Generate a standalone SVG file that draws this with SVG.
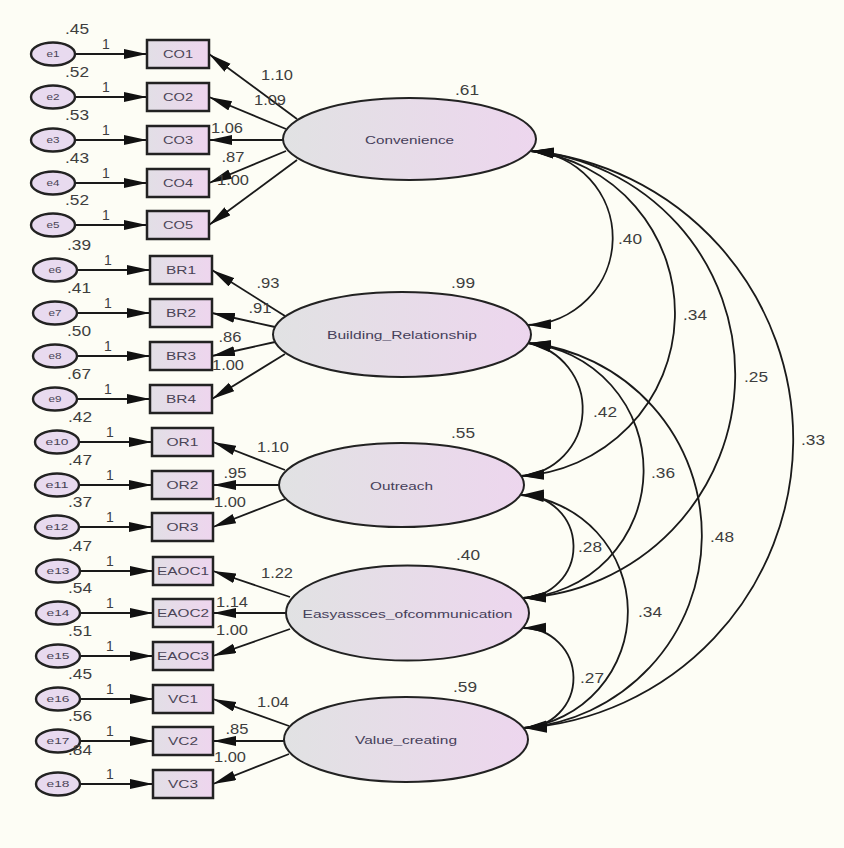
<svg xmlns="http://www.w3.org/2000/svg" width="844" height="848" viewBox="0 0 844 848">
<defs>
<linearGradient id="gl" x1="0" y1="0" x2="1" y2="0">
<stop offset="0" stop-color="#e1e2e3"/>
<stop offset="1" stop-color="#edd6ee"/>
</linearGradient>
<linearGradient id="gb" x1="0" y1="0" x2="1" y2="0">
<stop offset="0" stop-color="#e2dfe6"/>
<stop offset="1" stop-color="#eed5ee"/>
</linearGradient>
<marker id="ah" markerUnits="userSpaceOnUse" markerWidth="25" markerHeight="11" refX="23" refY="5" orient="auto">
<path d="M0,0 L23,5 L0,10 z" fill="#111"/>
</marker>
<marker id="ahs" markerUnits="userSpaceOnUse" markerWidth="25" markerHeight="11" refX="23" refY="5" orient="auto-start-reverse">
<path d="M0,0 L23,5 L0,10 z" fill="#111"/>
</marker>
</defs>
<style>
.lat{fill:url(#gl);stroke:#222;stroke-width:2}
.obs{fill:url(#gb);stroke:#222;stroke-width:2.5}
.err{fill:#e8daef;stroke:#222;stroke-width:2.4}
.c{fill:none;stroke:#1a1a1a;stroke-width:1.8;marker-end:url(#ah)}
.cov{fill:none;stroke:#1a1a1a;stroke-width:1.8;marker-start:url(#ahs);marker-end:url(#ahs)}
text{font-family:"Liberation Sans",Arial,sans-serif;text-anchor:middle}
.n text,text.n{font-size:14px;fill:#3e3e3e}
.lt{font-size:11.5px;fill:#46405a}
.bt{font-size:10px;fill:#4a4456}
.et{font-size:9px;fill:#4a4456}
</style>
<rect x="0" y="0" width="844" height="848" fill="#fdfdf5"/>

<g id="connectors">
<line class="c" x1="75" y1="54" x2="147" y2="54"/>
<line class="c" x1="75" y1="97" x2="147" y2="97"/>
<line class="c" x1="75" y1="140" x2="147" y2="140"/>
<line class="c" x1="75" y1="183" x2="147" y2="183"/>
<line class="c" x1="75" y1="225" x2="147" y2="225"/>
<line class="c" x1="77" y1="270" x2="150" y2="270"/>
<line class="c" x1="77" y1="313" x2="150" y2="313"/>
<line class="c" x1="77" y1="356" x2="150" y2="356"/>
<line class="c" x1="77" y1="399" x2="150" y2="399"/>
<line class="c" x1="79" y1="442" x2="152" y2="442"/>
<line class="c" x1="79" y1="485" x2="152" y2="485"/>
<line class="c" x1="79" y1="527" x2="152" y2="527"/>
<line class="c" x1="80" y1="571" x2="153" y2="571"/>
<line class="c" x1="80" y1="613" x2="153" y2="613"/>
<line class="c" x1="80" y1="656" x2="153" y2="656"/>
<line class="c" x1="80" y1="699" x2="153" y2="699"/>
<line class="c" x1="80" y1="741" x2="153" y2="741"/>
<line class="c" x1="80" y1="784" x2="153" y2="784"/>
<line class="c" x1="297" y1="119" x2="209" y2="54"/>
<line class="c" x1="286" y1="129" x2="209" y2="97"/>
<line class="c" x1="285" y1="140" x2="209" y2="140"/>
<line class="c" x1="286" y1="151" x2="209" y2="183"/>
<line class="c" x1="297" y1="160" x2="209" y2="225"/>
<line class="c" x1="285" y1="316" x2="212" y2="270"/>
<line class="c" x1="275" y1="327" x2="212" y2="313"/>
<line class="c" x1="275" y1="342" x2="212" y2="356"/>
<line class="c" x1="285" y1="354" x2="212" y2="399"/>
<line class="c" x1="285" y1="470" x2="213" y2="442"/>
<line class="c" x1="281" y1="485" x2="213" y2="485"/>
<line class="c" x1="285" y1="499" x2="213" y2="527"/>
<line class="c" x1="290" y1="597" x2="213" y2="571"/>
<line class="c" x1="288" y1="613" x2="213" y2="613"/>
<line class="c" x1="290" y1="629" x2="213" y2="656"/>
<line class="c" x1="289" y1="726" x2="213" y2="699"/>
<line class="c" x1="286" y1="741" x2="213" y2="741"/>
<line class="c" x1="289" y1="754" x2="213" y2="784"/>
<path class="cov" d="M531,151 A87.1,87.1 0 0 1 528,325"/>
<path class="cov" d="M531,151 A163.2,163.2 0 0 1 521,476"/>
<path class="cov" d="M531,151 A224.1,224.1 0 0 1 523,598"/>
<path class="cov" d="M531,151 A289.5,289.5 0 0 1 524,728"/>
<path class="cov" d="M528,343 A67.2,67.2 0 0 1 521,476"/>
<path class="cov" d="M528,343 A127.9,127.9 0 0 1 523,598"/>
<path class="cov" d="M528,343 A193.3,193.3 0 0 1 524,728"/>
<path class="cov" d="M521,495 A51.5,51.5 0 0 1 523,598"/>
<path class="cov" d="M521,495 A117.1,117.1 0 0 1 524,728"/>
<path class="cov" d="M523,628 A50,50 0 0 1 524,728"/>
<g class="n">
<text x="106" y="49">1</text><text x="106" y="92">1</text><text x="106" y="135">1</text><text x="106" y="178">1</text><text x="106" y="220">1</text>
<text x="108" y="265">1</text><text x="108" y="308">1</text><text x="108" y="351">1</text><text x="108" y="394">1</text>
<text x="110" y="437">1</text><text x="110" y="480">1</text><text x="110" y="522">1</text>
<text x="110" y="566">1</text><text x="110" y="608">1</text><text x="110" y="651">1</text>
<text x="110" y="694">1</text><text x="110" y="736">1</text><text x="110" y="779">1</text>
<text x="277" y="80" textLength="32" lengthAdjust="spacingAndGlyphs">1.10</text><text x="270" y="105" textLength="32" lengthAdjust="spacingAndGlyphs">1.09</text><text x="227" y="133" textLength="32" lengthAdjust="spacingAndGlyphs">1.06</text><text x="233" y="162" textLength="23" lengthAdjust="spacingAndGlyphs">.87</text><text x="233" y="185" textLength="32" lengthAdjust="spacingAndGlyphs">1.00</text>
<text x="268" y="288" textLength="23" lengthAdjust="spacingAndGlyphs">.93</text><text x="260" y="313" textLength="23" lengthAdjust="spacingAndGlyphs">.91</text><text x="230" y="342" textLength="23" lengthAdjust="spacingAndGlyphs">.86</text><text x="228" y="370" textLength="32" lengthAdjust="spacingAndGlyphs">1.00</text>
<text x="273" y="452" textLength="32" lengthAdjust="spacingAndGlyphs">1.10</text><text x="235" y="478" textLength="23" lengthAdjust="spacingAndGlyphs">.95</text><text x="230" y="507" textLength="32" lengthAdjust="spacingAndGlyphs">1.00</text>
<text x="277" y="578" textLength="32" lengthAdjust="spacingAndGlyphs">1.22</text><text x="232" y="607" textLength="32" lengthAdjust="spacingAndGlyphs">1.14</text><text x="232" y="635" textLength="32" lengthAdjust="spacingAndGlyphs">1.00</text>
<text x="273" y="707" textLength="32" lengthAdjust="spacingAndGlyphs">1.04</text><text x="237" y="734" textLength="23" lengthAdjust="spacingAndGlyphs">.85</text><text x="230" y="762" textLength="32" lengthAdjust="spacingAndGlyphs">1.00</text>
<text x="630" y="244" textLength="24" lengthAdjust="spacingAndGlyphs">.40</text><text x="695" y="320" textLength="24" lengthAdjust="spacingAndGlyphs">.34</text><text x="756" y="382" textLength="24" lengthAdjust="spacingAndGlyphs">.25</text><text x="813" y="445" textLength="24" lengthAdjust="spacingAndGlyphs">.33</text>
<text x="605" y="417" textLength="24" lengthAdjust="spacingAndGlyphs">.42</text><text x="663" y="478" textLength="24" lengthAdjust="spacingAndGlyphs">.36</text><text x="722" y="542" textLength="24" lengthAdjust="spacingAndGlyphs">.48</text>
<text x="590" y="552" textLength="24" lengthAdjust="spacingAndGlyphs">.28</text><text x="650" y="617" textLength="24" lengthAdjust="spacingAndGlyphs">.34</text><text x="592" y="683" textLength="24" lengthAdjust="spacingAndGlyphs">.27</text>
</g>
</g>

<g id="e1"><ellipse class="err" cx="53" cy="54" rx="22" ry="11.5"/><text class="et" x="53" y="57" textLength="13" lengthAdjust="spacingAndGlyphs">e1</text><text class="n" x="77" y="34" textLength="24" lengthAdjust="spacingAndGlyphs">.45</text></g>
<g id="e2"><ellipse class="err" cx="53" cy="97" rx="22" ry="11.5"/><text class="et" x="53" y="100" textLength="13" lengthAdjust="spacingAndGlyphs">e2</text><text class="n" x="77" y="77" textLength="24" lengthAdjust="spacingAndGlyphs">.52</text></g>
<g id="e3"><ellipse class="err" cx="53" cy="140" rx="22" ry="11.5"/><text class="et" x="53" y="143" textLength="13" lengthAdjust="spacingAndGlyphs">e3</text><text class="n" x="77" y="120" textLength="24" lengthAdjust="spacingAndGlyphs">.53</text></g>
<g id="e4"><ellipse class="err" cx="53" cy="183" rx="22" ry="11.5"/><text class="et" x="53" y="186" textLength="13" lengthAdjust="spacingAndGlyphs">e4</text><text class="n" x="77" y="163" textLength="24" lengthAdjust="spacingAndGlyphs">.43</text></g>
<g id="e5"><ellipse class="err" cx="53" cy="225" rx="22" ry="11.5"/><text class="et" x="53" y="228" textLength="13" lengthAdjust="spacingAndGlyphs">e5</text><text class="n" x="77" y="205" textLength="24" lengthAdjust="spacingAndGlyphs">.52</text></g>
<g id="e6"><ellipse class="err" cx="55" cy="270" rx="22" ry="11.5"/><text class="et" x="55" y="273" textLength="13" lengthAdjust="spacingAndGlyphs">e6</text><text class="n" x="79" y="250" textLength="24" lengthAdjust="spacingAndGlyphs">.39</text></g>
<g id="e7"><ellipse class="err" cx="55" cy="313" rx="22" ry="11.5"/><text class="et" x="55" y="316" textLength="13" lengthAdjust="spacingAndGlyphs">e7</text><text class="n" x="79" y="293" textLength="24" lengthAdjust="spacingAndGlyphs">.41</text></g>
<g id="e8"><ellipse class="err" cx="55" cy="356" rx="22" ry="11.5"/><text class="et" x="55" y="359" textLength="13" lengthAdjust="spacingAndGlyphs">e8</text><text class="n" x="79" y="336" textLength="24" lengthAdjust="spacingAndGlyphs">.50</text></g>
<g id="e9"><ellipse class="err" cx="55" cy="399" rx="22" ry="11.5"/><text class="et" x="55" y="402" textLength="13" lengthAdjust="spacingAndGlyphs">e9</text><text class="n" x="79" y="379" textLength="24" lengthAdjust="spacingAndGlyphs">.67</text></g>
<g id="e10"><ellipse class="err" cx="57" cy="442" rx="22" ry="11.5"/><text class="et" x="57" y="445" textLength="23" lengthAdjust="spacingAndGlyphs">e10</text><text class="n" x="80" y="422" textLength="24" lengthAdjust="spacingAndGlyphs">.42</text></g>
<g id="e11"><ellipse class="err" cx="57" cy="485" rx="22" ry="11.5"/><text class="et" x="57" y="488" textLength="23" lengthAdjust="spacingAndGlyphs">e11</text><text class="n" x="80" y="465" textLength="24" lengthAdjust="spacingAndGlyphs">.47</text></g>
<g id="e12"><ellipse class="err" cx="57" cy="527" rx="22" ry="11.5"/><text class="et" x="57" y="530" textLength="23" lengthAdjust="spacingAndGlyphs">e12</text><text class="n" x="80" y="507" textLength="24" lengthAdjust="spacingAndGlyphs">.37</text></g>
<g id="e13"><ellipse class="err" cx="58" cy="571" rx="22" ry="11.5"/><text class="et" x="58" y="574" textLength="23" lengthAdjust="spacingAndGlyphs">e13</text><text class="n" x="80" y="551" textLength="24" lengthAdjust="spacingAndGlyphs">.47</text></g>
<g id="e14"><ellipse class="err" cx="58" cy="613" rx="22" ry="11.5"/><text class="et" x="58" y="616" textLength="23" lengthAdjust="spacingAndGlyphs">e14</text><text class="n" x="80" y="593" textLength="24" lengthAdjust="spacingAndGlyphs">.54</text></g>
<g id="e15"><ellipse class="err" cx="58" cy="656" rx="22" ry="11.5"/><text class="et" x="58" y="659" textLength="23" lengthAdjust="spacingAndGlyphs">e15</text><text class="n" x="80" y="636" textLength="24" lengthAdjust="spacingAndGlyphs">.51</text></g>
<g id="e16"><ellipse class="err" cx="58" cy="699" rx="22" ry="11.5"/><text class="et" x="58" y="702" textLength="23" lengthAdjust="spacingAndGlyphs">e16</text><text class="n" x="80" y="679" textLength="24" lengthAdjust="spacingAndGlyphs">.45</text></g>
<g id="e17"><ellipse class="err" cx="58" cy="741" rx="22" ry="11.5"/><text class="et" x="58" y="744" textLength="23" lengthAdjust="spacingAndGlyphs">e17</text><text class="n" x="80" y="721" textLength="24" lengthAdjust="spacingAndGlyphs">.56</text></g>
<g id="e18"><ellipse class="err" cx="58" cy="784" rx="22" ry="11.5"/><text class="et" x="58" y="787" textLength="23" lengthAdjust="spacingAndGlyphs">e18</text><text class="n" x="80" y="755" textLength="24" lengthAdjust="spacingAndGlyphs">.84</text></g>

<g id="CO1"><rect class="obs" x="147" y="40" width="62" height="28"/><text class="bt" x="178" y="57.5" textLength="30" lengthAdjust="spacingAndGlyphs">CO1</text></g>
<g id="CO2"><rect class="obs" x="147" y="83" width="62" height="28"/><text class="bt" x="178" y="100.5" textLength="30" lengthAdjust="spacingAndGlyphs">CO2</text></g>
<g id="CO3"><rect class="obs" x="147" y="126" width="62" height="28"/><text class="bt" x="178" y="143.5" textLength="30" lengthAdjust="spacingAndGlyphs">CO3</text></g>
<g id="CO4"><rect class="obs" x="147" y="169" width="62" height="28"/><text class="bt" x="178" y="186.5" textLength="30" lengthAdjust="spacingAndGlyphs">CO4</text></g>
<g id="CO5"><rect class="obs" x="147" y="211" width="62" height="28"/><text class="bt" x="178" y="228.5" textLength="30" lengthAdjust="spacingAndGlyphs">CO5</text></g>
<g id="BR1"><rect class="obs" x="150" y="256" width="62" height="28"/><text class="bt" x="181" y="273.5" textLength="30" lengthAdjust="spacingAndGlyphs">BR1</text></g>
<g id="BR2"><rect class="obs" x="150" y="299" width="62" height="28"/><text class="bt" x="181" y="316.5" textLength="30" lengthAdjust="spacingAndGlyphs">BR2</text></g>
<g id="BR3"><rect class="obs" x="150" y="342" width="62" height="28"/><text class="bt" x="181" y="359.5" textLength="30" lengthAdjust="spacingAndGlyphs">BR3</text></g>
<g id="BR4"><rect class="obs" x="150" y="385" width="62" height="28"/><text class="bt" x="181" y="402.5" textLength="30" lengthAdjust="spacingAndGlyphs">BR4</text></g>
<g id="OR1"><rect class="obs" x="152" y="428" width="61" height="28"/><text class="bt" x="182.5" y="445.5" textLength="32" lengthAdjust="spacingAndGlyphs">OR1</text></g>
<g id="OR2"><rect class="obs" x="152" y="471" width="61" height="28"/><text class="bt" x="182.5" y="488.5" textLength="32" lengthAdjust="spacingAndGlyphs">OR2</text></g>
<g id="OR3"><rect class="obs" x="152" y="513" width="61" height="28"/><text class="bt" x="182.5" y="530.5" textLength="32" lengthAdjust="spacingAndGlyphs">OR3</text></g>
<g id="EAOC1"><rect class="obs" x="153" y="557" width="60" height="28"/><text class="bt" x="183" y="574.5" textLength="52" lengthAdjust="spacingAndGlyphs">EAOC1</text></g>
<g id="EAOC2"><rect class="obs" x="153" y="599" width="60" height="28"/><text class="bt" x="183" y="616.5" textLength="52" lengthAdjust="spacingAndGlyphs">EAOC2</text></g>
<g id="EAOC3"><rect class="obs" x="153" y="642" width="60" height="28"/><text class="bt" x="183" y="659.5" textLength="52" lengthAdjust="spacingAndGlyphs">EAOC3</text></g>
<g id="VC1"><rect class="obs" x="153" y="685" width="60" height="28"/><text class="bt" x="183" y="702.5" textLength="30" lengthAdjust="spacingAndGlyphs">VC1</text></g>
<g id="VC2"><rect class="obs" x="153" y="727" width="60" height="28"/><text class="bt" x="183" y="744.5" textLength="30" lengthAdjust="spacingAndGlyphs">VC2</text></g>
<g id="VC3"><rect class="obs" x="153" y="770" width="60" height="28"/><text class="bt" x="183" y="787.5" textLength="30" lengthAdjust="spacingAndGlyphs">VC3</text></g>

<g id="Convenience"><ellipse class="lat" cx="409.5" cy="139" rx="126.5" ry="41"/><text class="lt" x="409.5" y="143.5" textLength="89" lengthAdjust="spacingAndGlyphs">Convenience</text><text class="n" x="467" y="95" textLength="24" lengthAdjust="spacingAndGlyphs">.61</text></g>
<g id="Building_Relationship"><ellipse class="lat" cx="402" cy="334.5" rx="129" ry="42.5"/><text class="lt" x="402" y="339" textLength="150" lengthAdjust="spacingAndGlyphs">Building_Relationship</text><text class="n" x="463" y="288" textLength="24" lengthAdjust="spacingAndGlyphs">.99</text></g>
<g id="Outreach"><ellipse class="lat" cx="401.5" cy="485" rx="122.5" ry="42"/><text class="lt" x="401.5" y="489.5" textLength="63" lengthAdjust="spacingAndGlyphs">Outreach</text><text class="n" x="463" y="438" textLength="24" lengthAdjust="spacingAndGlyphs">.55</text></g>
<g id="Easyassces_ofcommunication"><ellipse class="lat" cx="407.5" cy="613" rx="121.5" ry="47.5"/><text class="lt" x="407.5" y="617.5" textLength="210" lengthAdjust="spacingAndGlyphs">Easyassces_ofcommunication</text><text class="n" x="468" y="560" textLength="24" lengthAdjust="spacingAndGlyphs">.40</text></g>
<g id="Value_creating"><ellipse class="lat" cx="406" cy="739.5" rx="122" ry="42.5"/><text class="lt" x="406" y="744" textLength="102" lengthAdjust="spacingAndGlyphs">Value_creating</text><text class="n" x="465" y="692" textLength="24" lengthAdjust="spacingAndGlyphs">.59</text></g>
</svg>
